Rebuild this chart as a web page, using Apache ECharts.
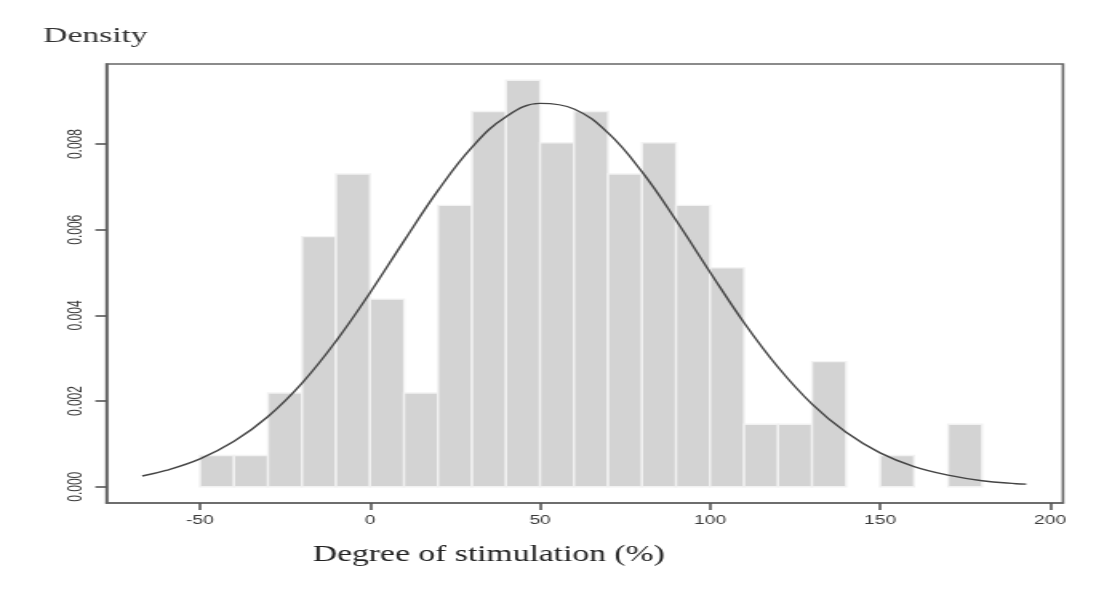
<!DOCTYPE html>
<html>
<head>
<meta charset="utf-8">
<script src="https://cdn.jsdelivr.net/npm/echarts@6/dist/echarts.min.js"></script>
<style>
  html, body { margin: 0; padding: 0; background: #ffffff; overflow: hidden; }
  #wrap { width: 1104px; height: 607px; overflow: hidden; }
  #chart { width: 690px; height: 607px; transform: scaleX(1.6); transform-origin: 0 0; }
</style>
</head>
<body>
<div id="wrap"><div id="chart"></div></div>
<script>
// Histogram bins (left edges, width 10) and densities
const binStart = [-50, -40, -30, -20, -10, 0, 10, 20, 30, 40, 50, 60, 70, 80, 90, 100, 110, 120, 130, 140, 150, 160, 170];
const binDensity = [0.00073, 0.00073, 0.00219, 0.00584, 0.00730, 0.00438, 0.00219, 0.00657, 0.00876, 0.00949, 0.00803, 0.00876, 0.00730, 0.00803, 0.00657, 0.00511, 0.00146, 0.00146, 0.00292, 0, 0.00073, 0, 0.00146];
const binWidth = 10;

// Fitted normal curve
const curveX = [-67, -60, -50, -40, -30, -20, -10, 0, 10, 20, 30, 40, 50, 60, 70, 80, 90, 100, 110, 120, 130, 140, 150, 160, 170, 180, 190, 193];
const curveY = [0.00025, 0.00038, 0.00065, 0.00106, 0.00164, 0.00242, 0.00340, 0.00453, 0.00574, 0.00692, 0.00793, 0.00864, 0.00895, 0.00882, 0.00826, 0.00735, 0.00622, 0.00501, 0.00383, 0.00279, 0.00193, 0.00127, 0.00079, 0.00047, 0.00027, 0.00014, 0.00007, 0.00006];

// Tick labels
const xTicks = [-50, 0, 50, 100, 150, 200];
const yTicks = [0, 0.002, 0.004, 0.006, 0.008];

const yTitle = 'Density';
const xTitle = 'Degree of stimulation (%)';

const chart = echarts.init(document.getElementById('chart'), null, { renderer: 'canvas' });

const barData = binStart.map((s, i) => [s, s + binWidth, binDensity[i]]).filter(d => d[2] > 0);
const lineData = curveX.map((x, i) => [x, curveY[i]]);

const option = {
  animation: false,
  backgroundColor: '#ffffff',
  grid: {
    left: 66.6, right: 25.6, top: 64, bottom: 104,
    show: true, borderColor: '#666666', borderWidth: 1.6, backgroundColor: 'transparent'
  },
  xAxis: {
    type: 'value', min: -77.5, max: 203.8, position: 'bottom',
    axisLine: { show: true, onZero: false, lineStyle: { color: '#666666', width: 1.6 } },
    splitLine: { show: false },
    axisTick: { show: true, inside: false, customValues: xTicks, length: 7, lineStyle: { color: '#555555', width: 1.6 } },
    axisLabel: { customValues: xTicks, margin: 12, fontFamily: 'Liberation Sans', fontSize: 12, color: '#3a3a3a' }
  },
  yAxis: {
    type: 'value', min: -0.00038, max: 0.00987, position: 'left',
    axisLine: { show: true, onZero: false, lineStyle: { color: '#666666', width: 1.6 } },
    splitLine: { show: false },
    axisTick: { show: true, inside: false, customValues: yTicks, length: 7, lineStyle: { color: '#555555', width: 1.6 } },
    axisLabel: {
      customValues: yTicks, rotate: 90, margin: 13,
      fontFamily: 'Liberation Sans', fontSize: 12, color: '#3a3a3a',
      formatter: v => Number(v).toFixed(3)
    }
  },
  graphic: [
    { type: 'text', left: 27, top: 26, style: { text: yTitle, font: '21px "Liberation Serif"', fill: '#333333' } },
    { type: 'text', left: 195.6, top: 543, scaleX: 0.875, style: { text: xTitle, font: '24px "Liberation Serif"', fill: '#222222' } }
  ],
  series: [
    {
      type: 'custom',
      data: barData,
      encode: { x: [0, 1], y: 2 },
      renderItem: function (params, api) {
        const p0 = api.coord([api.value(0), api.value(2)]);
        const p1 = api.coord([api.value(1), 0]);
        return {
          type: 'rect',
          shape: { x: p0[0], y: p0[1], width: p1[0] - p0[0], height: p1[1] - p0[1] },
          style: { fill: '#d3d3d3', stroke: '#f2f2f2', lineWidth: 1.4 }
        };
      },
      z: 1
    },
    {
      type: 'line',
      data: lineData,
      smooth: 0.4,
      showSymbol: false,
      lineStyle: { color: '#444444', width: 1.4 },
      z: 3
    }
  ]
};
chart.setOption(option);
</script>
</body>
</html>
